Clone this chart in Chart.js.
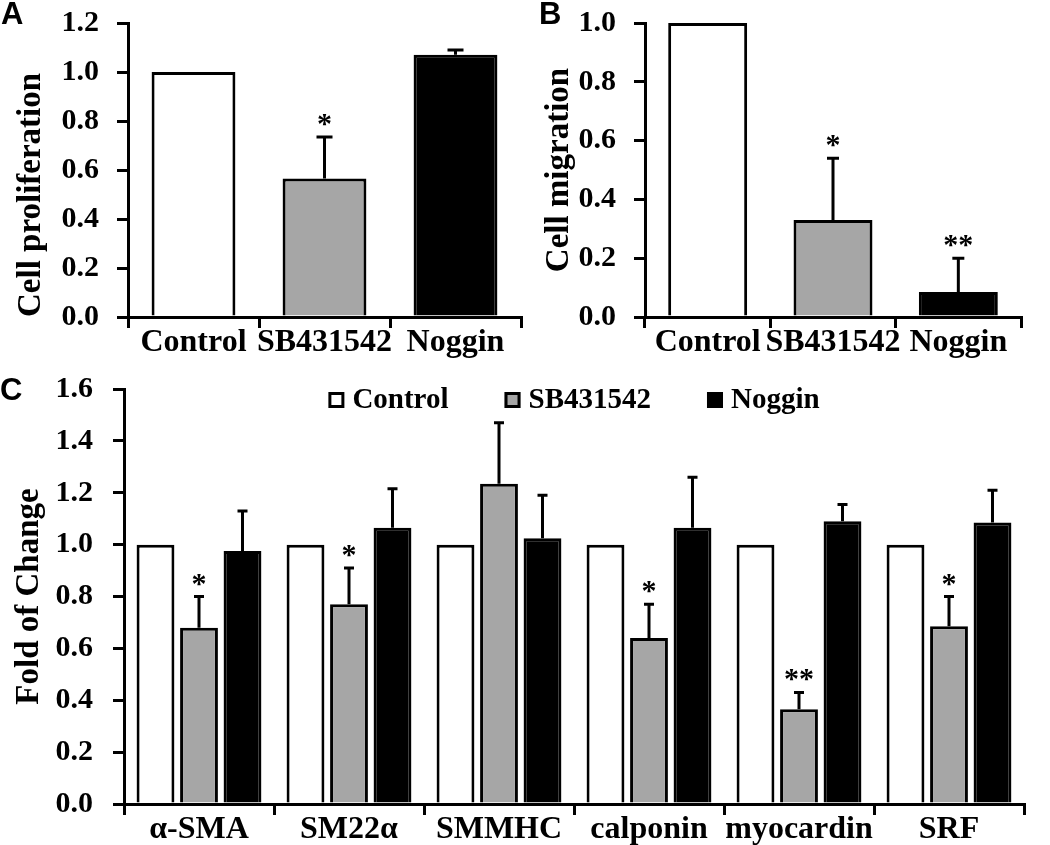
<!DOCTYPE html>
<html>
<head>
<meta charset="utf-8">
<script src="https://cdn.jsdelivr.net/npm/chart.js@4.4.0/dist/chart.umd.min.js"></script>
<style>
  body { margin: 0; background: #fff; }
  #wrap { position: relative; width: 1050px; height: 845px; }
  canvas { position: absolute; }
  .tag { position: absolute; font: bold 31px "Liberation Sans", Arial, sans-serif; color: #000; }
</style>
</head>
<body>
<div id="wrap">
  <canvas id="chartA" width="525" height="370" style="left:0;top:0"></canvas>
  <canvas id="chartB" width="525" height="370" style="left:525px;top:0"></canvas>
  <canvas id="chartC" width="1050" height="475" style="left:0;top:370px"></canvas>
  <div class="tag" style="left:1px;top:-4px">A</div>
  <div class="tag" style="left:539px;top:-4px">B</div>
  <div class="tag" style="left:0px;top:372px">C</div>
</div>
<script>
// dados (media e erro para cima)
const groups = ['Control', 'SB431542', 'Noggin'];
const colours = ['#ffffff', '#a6a6a6', '#000000'];

// painel A - proliferação
const prolifMean = [1.0, 0.565, 1.07];
const prolifErr = [0, 0.17, 0.02];
const prolifSig = ['', '*', ''];

// painel B - migração
const migrMean = [1.0, 0.33, 0.085];
const migrErr = [0, 0.21, 0.115];
const migrSig = ['', '*', '**'];

// painel C - marcadores
const genes = ['α-SMA', 'SM22α', 'SMMHC', 'calponin', 'myocardin', 'SRF'];
const ctrlFold = [1, 1, 1, 1, 1, 1];
const sbFold = [0.68, 0.77, 1.235, 0.64, 0.365, 0.685];
const sbErr = [0.12, 0.14, 0.235, 0.13, 0.065, 0.115];
const sbSig = ['*', '*', '', '*', '**', '*'];
const nogFold = [0.975, 1.065, 1.025, 1.065, 1.09, 1.085];
const nogErr = [0.155, 0.15, 0.165, 0.195, 0.065, 0.125];

Chart.defaults.font.family = '"Liberation Serif", "Times New Roman", serif';
Chart.defaults.font.weight = 'bold';
Chart.defaults.color = '#000';

// barras de erro e asteriscos desenhados por cima das barras
const errorBars = {
  id: 'errorBars',
  afterDatasetsDraw(chart, args, opts) {
    const ctx = chart.ctx;
    const yScale = chart.scales.y;
    chart.data.datasets.forEach((ds, i) => {
      if (!ds.errors) return;
      const meta = chart.getDatasetMeta(i);
      meta.data.forEach((bar, j) => {
        const err = ds.errors[j];
        if (!err) return;
        const top = yScale.getPixelForValue(ds.data[j] + err);
        ctx.save();
        ctx.strokeStyle = '#000';
        ctx.lineWidth = 3;
        ctx.beginPath();
        ctx.moveTo(bar.x, bar.y);
        ctx.lineTo(bar.x, top);
        ctx.moveTo(bar.x - opts.cap, top);
        ctx.lineTo(bar.x + opts.cap, top);
        ctx.stroke();
        const mark = ds.marks ? ds.marks[j] : '';
        if (mark) {
          ctx.font = 'bold 30px "Liberation Serif", serif';
          ctx.textAlign = 'center';
          ctx.fillStyle = '#000';
          ctx.fillText(mark, bar.x, top - 4);
        }
        ctx.restore();
      });
    });
  }
};

// legenda em linha dentro da área do gráfico (painel C)
const inlineLegend = {
  id: 'inlineLegend',
  afterDraw(chart, args, opts) {
    const ctx = chart.ctx;
    const area = chart.chartArea;
    ctx.save();
    ctx.font = 'bold 29px "Liberation Serif", serif';
    const items = chart.data.datasets.map(ds => ({
      text: ds.label,
      fill: ds.backgroundColor,
      w: opts.box + opts.gap + ctx.measureText(ds.label).width
    }));
    const total = items.reduce((s, it) => s + it.w, 0) + opts.spacing * (items.length - 1);
    let x = (area.left + area.right) / 2 - total / 2;
    const base = area.top + opts.baseline;
    items.forEach(it => {
      const by = base - 16;
      ctx.fillStyle = it.fill;
      ctx.fillRect(x, by, opts.box, opts.box);
      ctx.strokeStyle = '#000';
      ctx.lineWidth = 3;
      ctx.strokeRect(x + 1.5, by + 1.5, opts.box - 3, opts.box - 3);
      ctx.fillStyle = '#000';
      ctx.textBaseline = 'alphabetic';
      ctx.fillText(it.text, x + opts.box + opts.gap, base);
      x += it.w + opts.spacing;
    });
    ctx.restore();
  }
};

function scalesFor(yMax, title, align, titlePad, yWidth, xHeight, tickPad) {
  return {
    x: {
      ticks: { padding: -1, maxRotation: 0, minRotation: 0, autoSkip: false, font: { size: 32, lineHeight: 1 } },
      grid: { offset: true, drawOnChartArea: false, color: '#000', lineWidth: 3, tickLength: 11 },
      border: { color: '#000', width: 3 },
      afterFit: s => { s.height = xHeight; }
    },
    y: {
      min: 0,
      max: yMax,
      ticks: { stepSize: 0.2, padding: tickPad, font: { size: 30 }, callback: v => v.toFixed(1) },
      grid: { drawOnChartArea: false, color: '#000', lineWidth: 3, tickLength: 11 },
      border: { color: '#000', width: 3 },
      title: { display: true, text: title, align: align, font: { size: 33 }, padding: { top: titlePad, bottom: 0 } },
      // largura fixa e sem folga extra em cima/baixo (a margem vem do layout)
      afterFit: s => { s.width = yWidth; s.paddingTop = 0; s.paddingBottom = 0; }
    }
  };
}

new Chart(document.getElementById('chartA'), {
  type: 'bar',
  data: {
    labels: groups,
    datasets: [{
      data: prolifMean,
      errors: prolifErr,
      marks: prolifSig,
      backgroundColor: colours,
      borderColor: '#000',
      borderWidth: 3,
      barPercentage: 0.64,
      categoryPercentage: 1
    }]
  },
  options: {
    responsive: false,
    animation: false,
    layout: { padding: { top: 23, right: 4, left: 0, bottom: 0 } },
    scales: scalesFor(1.2, 'Cell proliferation', 'start', 12, 128, 53, 18),
    plugins: { legend: { display: false }, tooltip: { enabled: false }, errorBars: { cap: 8 } }
  },
  plugins: [errorBars]
});

new Chart(document.getElementById('chartB'), {
  type: 'bar',
  data: {
    labels: groups,
    datasets: [{
      data: migrMean,
      errors: migrErr,
      marks: migrSig,
      backgroundColor: colours,
      borderColor: '#000',
      borderWidth: 3,
      barPercentage: 0.63,
      categoryPercentage: 1
    }]
  },
  options: {
    responsive: false,
    animation: false,
    layout: { padding: { top: 23, right: 29, left: 0, bottom: 0 } },
    scales: scalesFor(1.0, 'Cell migration', 'center', 15, 120, 53, 18),
    plugins: { legend: { display: false }, tooltip: { enabled: false }, errorBars: { cap: 6 } }
  },
  plugins: [errorBars]
});

new Chart(document.getElementById('chartC'), {
  type: 'bar',
  data: {
    labels: genes,
    datasets: [
      { label: 'Control', data: ctrlFold, backgroundColor: colours[0] },
      { label: 'SB431542', data: sbFold, errors: sbErr, marks: sbSig, backgroundColor: colours[1] },
      { label: 'Noggin', data: nogFold, errors: nogErr, backgroundColor: colours[2] }
    ].map(d => Object.assign(d, { borderColor: '#000', borderWidth: 3, barPercentage: 0.87, categoryPercentage: 0.87 }))
  },
  options: {
    responsive: false,
    animation: false,
    layout: { padding: { top: 19, right: 26, left: 0, bottom: 0 } },
    scales: scalesFor(1.6, 'Fold of Change', 'center', 10, 124, 41, 20),
    plugins: {
      legend: { display: false },
      tooltip: { enabled: false },
      errorBars: { cap: 5 },
      inlineLegend: { box: 16, gap: 8, spacing: 56, baseline: 19 }
    }
  },
  plugins: [errorBars, inlineLegend]
});
</script>
</body>
</html>
